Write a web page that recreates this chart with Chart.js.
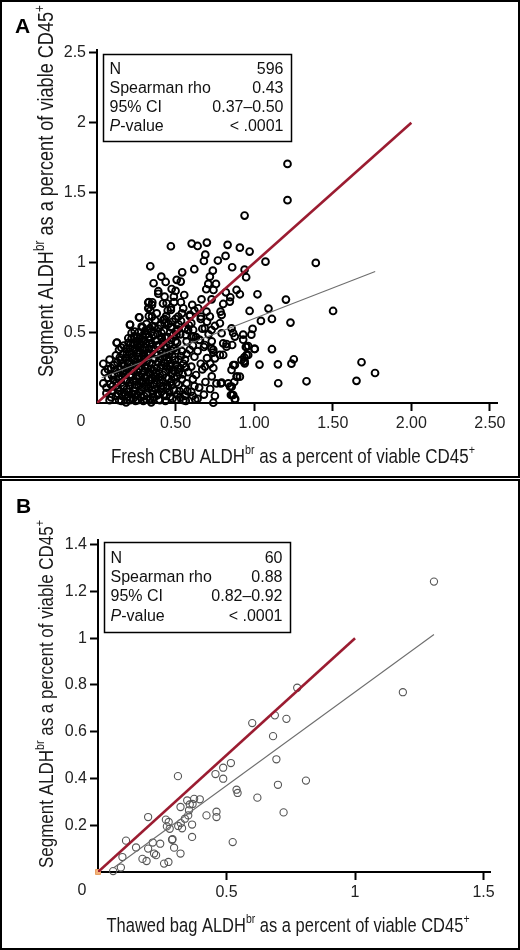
<!DOCTYPE html>
<html>
<head>
<meta charset="utf-8">
<script src="https://cdn.jsdelivr.net/npm/chart.js@4.4.0/dist/chart.umd.min.js"></script>
<style>
  body { margin: 0; background: #fff; }
  #wrap { position: relative; width: 520px; height: 950px; }
  canvas { position: absolute; left: 0; }
  #chartA { top: 0; }
  #chartB { top: 479px; }
</style>
</head>
<body>
<div id="wrap">
  <canvas id="chartA" width="520" height="478"></canvas>
  <canvas id="chartB" width="520" height="471"></canvas>
</div>
<script>
// ---- Panel A: fresh CBU vs segment (x, y) ----
const freshVsSegment = [
  // outliers / right side
  [1.212,1.707],[1.212,1.448],[0.939,1.338],[0.909,1.109],[0.971,1.081],[1.072,1.009],[1.392,1.0],[0.939,0.952],
  [0.949,0.898],[0.909,0.776],[1.021,0.776],[1.202,0.738],[0.971,0.657],[1.091,0.674],[1.502,0.657],[1.043,0.586],
  [1.113,0.600],[1.231,0.574],[0.990,0.529],[0.930,0.488],[0.947,0.400],[0.962,0.407],[1.002,0.386],[1.113,0.384],
  [0.937,0.326],[0.962,0.343],[0.939,0.300],[1.034,0.274],[1.151,0.276],[1.252,0.312],[1.237,0.281],[0.909,0.188],
  [1.153,0.141],[1.333,0.155],[1.651,0.158],[1.683,0.291],[1.769,0.214],
  [0.788,0.140],[0.846,0.117],[0.860,0.057],[0.879,0.029],[0.740,0.002],
  // upper scatter
  [0.470,1.119],[0.602,1.138],[0.640,1.121],[0.699,1.145],[0.831,1.129],[0.689,1.059],[0.680,1.014],[0.818,1.050],
  [0.769,1.017],[0.339,0.976],[0.542,0.933],[0.619,0.955],[0.737,0.945],[0.860,0.969],[0.718,0.902],[0.708,0.850],
  [0.757,0.850],[0.409,0.902],[0.360,0.855],[0.507,0.879],[0.533,0.867],[0.437,0.864],[0.390,0.798],[0.475,0.814],
  [0.500,0.800],[0.555,0.771],[0.695,0.812],[0.741,0.807],[0.430,0.759],[0.489,0.759],[0.888,0.807],[0.820,0.790],
  [0.848,0.755],[0.326,0.717],[0.352,0.719],[0.443,0.712],[0.534,0.719],[0.606,0.700],[0.665,0.740],[0.729,0.740],
  [0.803,0.707],[0.845,0.724],[0.326,0.676],[0.470,0.664],[0.549,0.676],[0.644,0.676],[0.697,0.652],[0.786,0.652],
  [0.267,0.612],[0.350,0.617],[0.422,0.593],[0.517,0.617],[0.591,0.629],[0.661,0.617],[0.718,0.617],[0.793,0.629],
  [0.210,0.557],[0.284,0.545],[0.336,0.533],[0.475,0.545],[0.560,0.533],[0.612,0.521],[0.686,0.533],[0.729,0.521],
  [0.782,0.569],[0.856,0.533],[0.877,0.474],[0.793,0.498],[0.127,0.431],[0.199,0.462],[0.252,0.474],[0.411,0.462],
  [0.506,0.486],[0.602,0.474],[0.655,0.450],[0.686,0.414],[0.824,0.421],[0.860,0.414],[0.951,0.402],[1.004,0.386],
  [0.729,0.388],[0.750,0.319],[0.782,0.343],[0.803,0.343],[0.877,0.271],[0.936,0.295],[0.951,0.343],[0.793,0.145],
  [0.857,0.117],[0.873,0.150],[0.892,0.188],[0.852,0.057],[0.877,0.026],
  [0.740,0.379],[0.803,0.426],[0.866,0.500],[0.930,0.452],[0.982,0.488],[0.824,0.402],[0.919,0.307],[0.940,0.283],
  [0.867,0.271],[0.856,0.236],[0.888,0.188],[0.835,0.140],[0.687,0.260],[0.867,0.057],
  // low-left edge
  [0.04,0.28],[0.08,0.31],[0.05,0.22],[0.07,0.18],[0.04,0.14],[0.06,0.07],[0.09,0.25],[0.10,0.12],[0.11,0.20],
  [0.12,0.05],[0.08,0.02],[0.13,0.29],[0.12,0.34],[0.14,0.17],[0.10,0.09],[0.15,0.24],[0.13,0.10],[0.06,0.11],
  [0.09,0.04],[0.14,0.02],[0.11,0.27],[0.125,0.43],[0.15,0.31],[0.14,0.38],[0.07,0.24],
  // dense core
  [0.16,0.05],[0.17,0.12],[0.18,0.20],[0.16,0.28],[0.19,0.35],[0.17,0.41],[0.20,0.08],[0.21,0.15],[0.22,0.24],
  [0.20,0.30],[0.21,0.39],[0.22,0.46],[0.21,0.56],[0.22,0.50],[0.23,0.03],[0.24,0.11],[0.25,0.19],[0.23,0.27],
  [0.26,0.33],[0.24,0.38],[0.25,0.44],[0.26,0.02],[0.27,0.08],[0.28,0.15],[0.26,0.22],[0.29,0.29],[0.27,0.36],
  [0.28,0.42],[0.29,0.48],[0.27,0.61],[0.30,0.05],[0.31,0.12],[0.30,0.18],[0.32,0.25],[0.31,0.32],[0.33,0.39],
  [0.30,0.45],[0.32,0.52],[0.33,0.62],[0.34,0.03],[0.35,0.09],[0.33,0.16],[0.34,0.21],[0.35,0.28],[0.34,0.35],
  [0.35,0.42],[0.33,0.47],[0.35,0.55],[0.18,0.06],[0.19,0.16],[0.17,0.23],[0.18,0.32],[0.20,0.43],[0.22,0.35],
  [0.24,0.06],[0.23,0.16],[0.25,0.27],[0.24,0.32],[0.26,0.40],[0.28,0.04],[0.29,0.11],[0.27,0.19],[0.28,0.26],
  [0.30,0.34],[0.29,0.38],[0.31,0.42],[0.32,0.07],[0.31,0.15],[0.33,0.22],[0.32,0.30],[0.34,0.45],[0.16,0.19],
  [0.19,0.25],[0.21,0.02],[0.22,0.20],[0.25,0.13],[0.26,0.36],[0.27,0.46],[0.30,0.23],[0.32,0.36],[0.34,0.12],
  [0.35,0.18],[0.23,0.42],[0.19,0.10],[0.28,0.32],[0.31,0.49],[0.29,0.54],[0.24,0.51],[0.34,0.66],[0.33,0.72],
  [0.35,0.70],[0.33,0.68],
  [0.145,0.085],[0.155,0.145],[0.165,0.215],[0.175,0.265],[0.185,0.385],[0.195,0.045],[0.205,0.125],[0.215,0.185],
  [0.215,0.275],[0.225,0.325],[0.235,0.085],[0.235,0.225],[0.245,0.155],[0.245,0.295],[0.255,0.355],[0.255,0.055],
  [0.265,0.245],[0.265,0.125],[0.275,0.285],[0.275,0.395],[0.285,0.205],[0.285,0.095],[0.295,0.155],[0.295,0.335],
  [0.305,0.265],[0.305,0.395],[0.315,0.025],[0.315,0.195],[0.325,0.105],[0.325,0.345],[0.335,0.285],[0.335,0.425],
  [0.345,0.165],[0.345,0.245],[0.355,0.065],[0.355,0.375],[0.365,0.135],[0.365,0.315],[0.375,0.215],[0.375,0.445],
  [0.385,0.055],[0.385,0.345],[0.395,0.185],[0.395,0.415],[0.405,0.255],[0.405,0.105],[0.415,0.355],[0.415,0.165],
  [0.425,0.055],[0.425,0.285],[0.435,0.225],[0.435,0.465],[0.445,0.105],[0.445,0.395],[0.455,0.175],[0.455,0.325],
  [0.465,0.045],[0.465,0.265],[0.475,0.375],[0.475,0.125],[0.485,0.235],[0.495,0.305],[0.505,0.145],[0.505,0.375],
  [0.515,0.245],[0.525,0.085],[0.535,0.335],[0.545,0.205],[0.565,0.255],[0.575,0.085],
  [0.105,0.165],[0.115,0.235],[0.125,0.145],[0.135,0.215],[0.095,0.195],[0.085,0.135],[0.135,0.065],[0.145,0.325],
  [0.155,0.395],[0.165,0.345],[0.175,0.075],[0.185,0.165],[0.195,0.285],[0.205,0.365],[0.215,0.425],[0.225,0.065],
  [0.235,0.475],[0.255,0.415],[0.265,0.505],[0.285,0.455],[0.305,0.515],[0.315,0.565],[0.345,0.505],[0.365,0.545],
  [0.385,0.495],[0.405,0.555],[0.425,0.515],[0.455,0.565],[0.485,0.485],[0.515,0.525],[0.535,0.585],[0.565,0.485],
  [0.585,0.555],[0.615,0.475],
  [0.155,0.015],[0.185,0.005],[0.245,0.015],[0.295,0.015],[0.345,0.005],[0.395,0.025],[0.435,0.015],[0.505,0.025],
  [0.565,0.015],[0.625,0.025],
  // mid band
  [0.36,0.04],[0.37,0.10],[0.38,0.16],[0.36,0.23],[0.39,0.29],[0.37,0.35],[0.38,0.41],[0.36,0.48],[0.39,0.53],
  [0.37,0.59],[0.40,0.02],[0.41,0.08],[0.40,0.14],[0.42,0.20],[0.41,0.27],[0.43,0.33],[0.40,0.38],[0.42,0.44],
  [0.41,0.50],[0.43,0.57],[0.44,0.05],[0.45,0.12],[0.44,0.18],[0.46,0.24],[0.45,0.30],[0.44,0.36],[0.46,0.42],
  [0.45,0.47],[0.47,0.54],[0.44,0.62],[0.48,0.03],[0.49,0.09],[0.47,0.15],[0.48,0.21],[0.50,0.27],[0.48,0.33],
  [0.49,0.39],[0.47,0.45],[0.50,0.51],[0.48,0.58],[0.51,0.06],[0.52,0.13],[0.51,0.19],[0.53,0.25],[0.52,0.31],
  [0.54,0.37],[0.51,0.43],[0.53,0.49],[0.52,0.56],[0.54,0.64],[0.55,0.02],[0.55,0.10],[0.54,0.17],[0.55,0.28],
  [0.39,0.07],[0.38,0.25],[0.40,0.32],[0.42,0.12],[0.43,0.40],[0.46,0.08],[0.46,0.35],[0.47,0.28],[0.49,0.18],
  [0.50,0.44],[0.53,0.04],[0.52,0.22],[0.41,0.47],[0.37,0.19],[0.44,0.26],[0.50,0.60],[0.45,0.66],[0.42,0.71],
  [0.39,0.78],[0.47,0.68],[0.49,0.72],[0.43,0.60],[0.38,0.64],
  // right of core
  [0.56,0.05],[0.57,0.14],[0.58,0.22],[0.56,0.31],[0.59,0.38],[0.57,0.44],[0.58,0.52],[0.60,0.08],[0.61,0.17],
  [0.60,0.26],[0.62,0.33],[0.61,0.41],[0.63,0.47],[0.60,0.57],[0.64,0.03],[0.65,0.11],[0.63,0.20],[0.66,0.28],
  [0.64,0.37],[0.65,0.45],[0.67,0.53],[0.68,0.06],[0.69,0.15],[0.67,0.24],[0.70,0.32],[0.68,0.40],[0.71,0.49],
  [0.72,0.10],[0.73,0.19],[0.72,0.28],[0.74,0.36],[0.73,0.44],[0.75,0.55],[0.59,0.62],[0.62,0.66],[0.66,0.60],
  [0.70,0.58],[0.74,0.25],[0.57,0.35],[0.61,0.05],[0.76,0.14],[0.75,0.05],[0.62,0.12]
];
const identityA = [[0, 0], [2, 2]];
const fitA = [[0.03, 0.18], [1.77, 0.938]];
const xTicksA = [0.5, 1, 1.5, 2, 2.5];
const yTicksA = [0.5, 1, 1.5, 2, 2.5];
const statsA = [['N', '596'], ['Spearman rho', '0.43'], ['95% CI', '0.37\u20130.50'], ['P-value', '< .0001']];

// ---- Panel B: thawed bag vs segment (x, y) ----
const thawedVsSegment = [
  [0.600,0.637],[0.688,0.670],[0.733,0.655],[0.681,0.581],[0.694,0.482],[0.809,0.391],[0.700,0.373],[0.722,0.255],
  [0.620,0.318],[0.539,0.352],[0.543,0.338],[0.517,0.466],[0.487,0.446],[0.457,0.419],[0.487,0.399],[0.524,0.128],
  [0.461,0.258],[0.461,0.235],[0.422,0.242],[0.311,0.410],[0.396,0.311],[0.374,0.313],[0.347,0.306],[0.368,0.291],
  [0.357,0.289],[0.321,0.278],[0.354,0.264],[0.351,0.242],[0.338,0.228],[0.366,0.203],[0.366,0.150],[0.322,0.209],
  [0.312,0.197],[0.327,0.187],[0.275,0.214],[0.264,0.224],[0.268,0.195],[0.279,0.185],[0.195,0.235],[0.288,0.138],
  [0.242,0.121],[0.213,0.126],[0.195,0.100],[0.296,0.104],[0.321,0.079],[0.218,0.079],[0.226,0.072],[0.148,0.105],
  [0.109,0.134],[0.095,0.064],[0.173,0.056],[0.189,0.047],[0.257,0.036],[0.274,0.043],[0.089,0.019],[0.059,0.004],
  [1.307,1.242],[1.186,0.769],[0.775,0.788],[0.290,0.140]
];
const originB = [[0, 0]];
const identityB = [[0, 0], [1, 1]];
const fitB = [[0.06, 0.017], [1.307, 1.016]];
const xTicksB = [0.5, 1, 1.5];
const yTicksB = [0.2, 0.4, 0.6, 0.8, 1, 1.2, 1.4];
const statsB = [['N', '60'], ['Spearman rho', '0.88'], ['95% CI', '0.82\u20130.92'], ['P-value', '< .0001']];

const xTitleA = 'Fresh CBU ALDH^{br} as a percent of viable CD45^{+}';
const yTitleA = 'Segment ALDH^{br} as a percent of viable CD45^{+}';
const xTitleB = 'Thawed bag ALDH^{br} as a percent of viable CD45^{+}';
const yTitleB = 'Segment ALDH^{br} as a percent of viable CD45^{+}';

const SANS = '"Liberation Sans", Arial, Helvetica, sans-serif';

const toXY = pts => pts.map(p => ({ x: p[0], y: p[1] }));

function parseRich(s) {
  const parts = [];
  s.split(/(\^\{[^}]*\})/).forEach(chunk => {
    if (!chunk) return;
    if (chunk.startsWith('^{')) parts.push({ t: chunk.slice(2, -1), sup: true });
    else parts.push({ t: chunk, sup: false });
  });
  return parts;
}

// draws text with superscripts, squeezed horizontally to the wanted width (narrow look)
function drawRich(ctx, text, cx, baseY, size, targetW) {
  const parts = parseRich(text);
  const font = size + 'px ' + SANS;
  const supFont = Math.round(size * 0.64) + 'px ' + SANS;
  let w = 0;
  parts.forEach(p => { ctx.font = p.sup ? supFont : font; w += ctx.measureText(p.t).width; });
  const k = targetW ? targetW / w : 1;
  ctx.save();
  ctx.translate(cx, baseY);
  ctx.scale(k, 1);
  ctx.textAlign = 'left';
  ctx.textBaseline = 'alphabetic';
  let x = -w / 2;
  parts.forEach(p => {
    ctx.font = p.sup ? supFont : font;
    ctx.fillText(p.t, x, p.sup ? -size * 0.42 : 0);
    x += ctx.measureText(p.t).width;
  });
  ctx.restore();
}

function makeDecor(cfg) {
  return {
    id: 'decor' + cfg.letter,
    afterDraw(chart) {
      const ctx = chart.ctx;
      const area = chart.chartArea;
      ctx.save();
      // frame
      ctx.strokeStyle = '#000';
      ctx.lineWidth = 2;
      ctx.strokeRect(1, 1, chart.width - 2, chart.height - 2);
      // panel letter
      ctx.fillStyle = '#000';
      ctx.font = 'bold 21px ' + SANS;
      ctx.textAlign = 'left';
      ctx.textBaseline = 'alphabetic';
      ctx.fillText(cfg.letter, cfg.letterX, cfg.letterY);
      // corner zero
      ctx.fillStyle = '#222';
      ctx.font = '16px ' + SANS;
      ctx.textAlign = 'center';
      ctx.textBaseline = 'middle';
      ctx.fillText('0', area.left - 16, area.bottom + 19);
      // axis titles
      ctx.fillStyle = '#1a1a1a';
      drawRich(ctx, cfg.xTitle, cfg.xTitleX, cfg.xTitleY, 20.5, cfg.xTitleW);
      ctx.save();
      ctx.translate(cfg.yTitleX, cfg.yTitleY);
      ctx.rotate(-Math.PI / 2);
      drawRich(ctx, cfg.yTitle, 0, 0, cfg.yTitleSize, cfg.yTitleW);
      ctx.restore();
      // stats box
      const b = cfg.box;
      ctx.fillStyle = '#fff';
      ctx.fillRect(b.l, b.t, b.r - b.l, b.b - b.t);
      ctx.strokeStyle = '#000';
      ctx.lineWidth = 1.5;
      ctx.strokeRect(b.l, b.t, b.r - b.l, b.b - b.t);
      ctx.fillStyle = '#111';
      ctx.textBaseline = 'alphabetic';
      cfg.stats.forEach((row, i) => {
        const y = b.t + b.first + i * b.step;
        ctx.textAlign = 'left';
        if (row[0].startsWith('P-')) {
          ctx.font = 'italic 16px ' + SANS;
          ctx.fillText('P', b.l + 6, y);
          const pw = ctx.measureText('P').width;
          ctx.font = '16px ' + SANS;
          ctx.fillText(row[0].slice(1), b.l + 6 + pw, y);
        } else {
          ctx.font = '16px ' + SANS;
          ctx.fillText(row[0], b.l + 6, y);
        }
        ctx.textAlign = 'right';
        ctx.font = '16px ' + SANS;
        ctx.fillText(row[1], b.r - 8, y);
      });
      ctx.restore();
    }
  };
}

function axis(ticks, min, max, fmt, fitFn) {
  return {
    type: 'linear',
    min: min,
    max: max,
    afterBuildTicks: s => { s.ticks = ticks.map(v => ({ value: v })); },
    afterFit: fitFn,
    border: { display: true, color: '#000', width: 2 },
    grid: { display: true, drawOnChartArea: false, drawTicks: true, tickLength: 8, tickWidth: 2, tickColor: '#000' },
    ticks: { autoSkip: false, maxRotation: 0, padding: 3, color: '#222', font: { family: SANS, size: 16 }, callback: fmt }
  };
}

function buildChart(id, c) {
  return new Chart(document.getElementById(id), {
    type: 'scatter',
    data: {
      datasets: [
        { data: toXY(c.identity), showLine: true, pointRadius: 0, borderColor: '#9b1c31', borderWidth: 2.6, order: 0 },
        { data: toXY(c.fit), showLine: true, pointRadius: 0, borderColor: '#6e6e6e', borderWidth: 1.1, order: 1 },
        ...(c.extra || []),
        { data: toXY(c.points), pointRadius: c.r, pointBorderWidth: c.bw, pointBorderColor: c.pc,
          pointBackgroundColor: 'rgba(0,0,0,0)', borderColor: c.pc, clip: false, order: 3 }
      ]
    },
    options: {
      responsive: false,
      animation: false,
      layout: { padding: c.pad },
      plugins: { legend: { display: false }, tooltip: { enabled: false } },
      scales: {
        x: axis(c.xTicks, 0, c.xMax, c.xFmt, s => { s.height = c.xH; }),
        y: axis(c.yTicks, 0, c.yMax, v => String(v), s => { s.width = c.yW; })
      }
    },
    plugins: [makeDecor(c.decor)]
  });
}

buildChart('chartA', {
  identity: identityA, fit: fitA, points: freshVsSegment,
  r: 3.4, bw: 1.9, pc: '#000',
  xTicks: xTicksA, yTicks: yTicksA, xMax: 2.545, yMax: 2.52,
  xFmt: v => v.toFixed(2),
  pad: { left: 0, top: 50, right: 23, bottom: 0 }, xH: 75, yW: 97,
  decor: {
    letter: 'A', letterX: 15, letterY: 33,
    xTitle: xTitleA, xTitleX: 293, xTitleY: 463, xTitleW: 364,
    yTitle: yTitleA, yTitleX: 53, yTitleY: 191, yTitleSize: 21.5, yTitleW: 372,
    stats: statsA,
    box: { l: 103.5, t: 54.5, r: 291.5, b: 141.5, first: 19, step: 19 }
  }
});

buildChart('chartB', {
  identity: identityB, fit: fitB, points: thawedVsSegment,
  r: 3.6, bw: 1.1, pc: '#555',
  extra: [{ data: toXY(originB), pointStyle: 'rect', pointRadius: 3.5, pointBackgroundColor: '#f2b27a',
            pointBorderColor: '#e9a062', pointBorderWidth: 1, clip: false, order: 2 }],
  xTicks: xTicksB, yTicks: yTicksB, xMax: 1.525, yMax: 1.42,
  xFmt: v => String(v),
  pad: { left: 0, top: 61, right: 30, bottom: 0 }, xH: 78, yW: 98,
  decor: {
    letter: 'B', letterX: 16, letterY: 34,
    xTitle: xTitleB, xTitleX: 288, xTitleY: 453, xTitleW: 363,
    yTitle: yTitleB, yTitleX: 53, yTitleY: 215, yTitleSize: 20.5, yTitleW: 348,
    stats: statsB,
    box: { l: 104.5, t: 63.5, r: 290.5, b: 153.5, first: 20.5, step: 19.2 }
  }
});
</script>
</body>
</html>
